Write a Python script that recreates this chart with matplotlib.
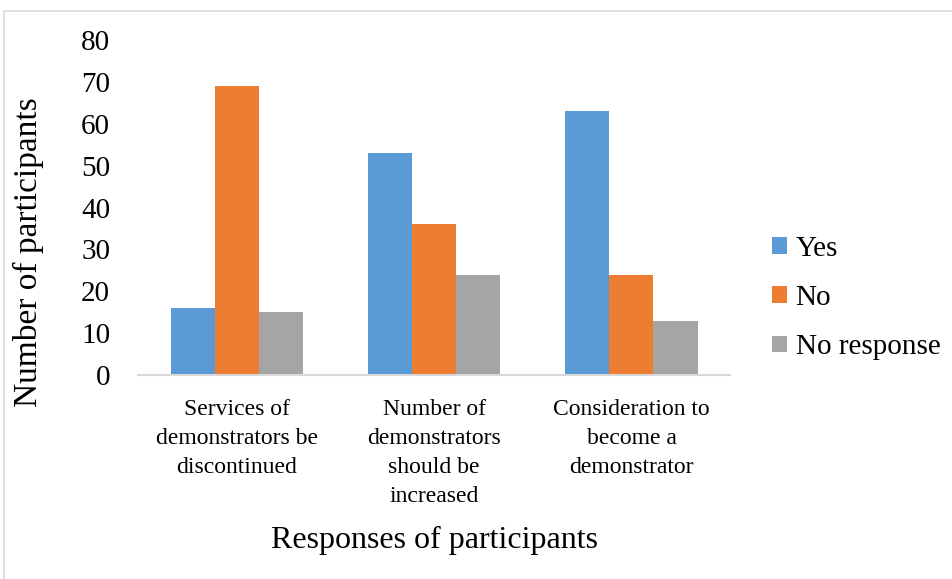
import matplotlib.pyplot as plt
import numpy as np
from matplotlib.patches import Rectangle

plt.rcParams['font.family'] = ['Liberation Serif', 'DejaVu Serif']

categories = ['Services of\ndemonstrators be\ndiscontinued',
              'Number of\ndemonstrators\nshould be\nincreased',
              'Consideration to\nbecome a\ndemonstrator']
series_names = ['Yes', 'No', 'No response']
yes = [16, 53, 63]
no = [69, 36, 24]
no_response = [15, 24, 13]
colors = ['#5B9BD5', '#ED7D31', '#A5A5A5']

fig = plt.figure(figsize=(9.53, 5.79), dpi=100)
ax = fig.add_axes([0.1448, 0.3523, 0.6214, 0.5786])

# light frame around the chart (right and bottom edges run off the image)
fig.patches.append(Rectangle((0.0045, -0.05), 1.05, 1.031, transform=fig.transFigure,
                             fill=False, edgecolor='#d9d9d9', linewidth=1.2))

x = np.arange(len(categories))
width = 0.223
for i, (vals, name) in enumerate(zip([yes, no, no_response], series_names)):
    ax.bar(x + (i - 1) * width, vals, width, color=colors[i], label=name)

ax.set_xlim(-0.5, 2.5)
ax.set_ylim(0, 80)
ax.set_yticks(range(0, 81, 10))
ax.set_xticks(x)
ax.set_xticklabels(categories, fontsize=17, linespacing=1.5)
ax.tick_params(axis='both', length=0)
ax.tick_params(axis='y', labelsize=21, pad=20)
ax.tick_params(axis='x', pad=17)

for side in ['top', 'right', 'left']:
    ax.spines[side].set_visible(False)
ax.spines['bottom'].set_color('#d9d9d9')
ax.spines['bottom'].set_linewidth(1.5)

ax.set_ylabel('Number of participants', fontsize=24)
ax.yaxis.set_label_coords(-0.158, 0.367)
ax.set_xlabel('Responses of participants', fontsize=23, labelpad=14)

ax.legend(loc='center left', bbox_to_anchor=(1.071, 0.23), frameon=False,
          fontsize=21, handlelength=0.5, handleheight=0.5, handletextpad=0.3,
          labelspacing=0.8, borderpad=0, borderaxespad=0)

fig.savefig('out.png', dpi=100)
